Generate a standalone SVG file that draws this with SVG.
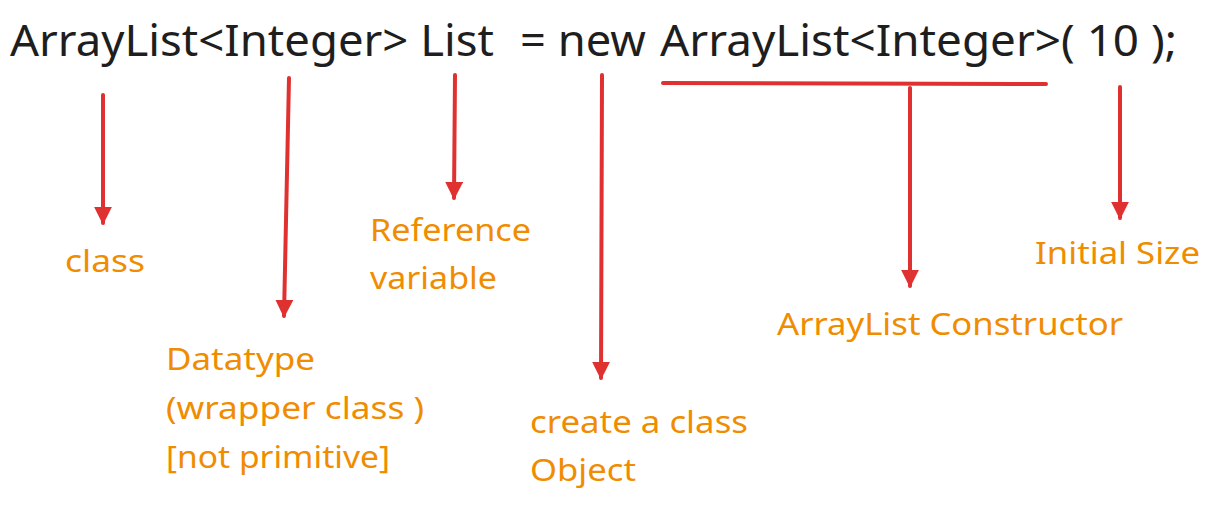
<svg xmlns="http://www.w3.org/2000/svg" width="1212" height="505" viewBox="0 0 1212 505">
<style>
.code{font-family:"Noto Sans","Open Sans",sans-serif;font-size:43px;fill:#1e1e1e}
.lbl{font-family:"Noto Sans","Open Sans",sans-serif;font-size:31px;fill:#f08c00}
.ln{stroke:#e03131;stroke-width:4;stroke-linecap:round;fill:none}
</style>
<defs>
<marker id="ah" viewBox="0 0 10 10" refX="9" refY="5" markerWidth="4.5" markerHeight="4.5" orient="auto" markerUnits="strokeWidth">
<path d="M0,0 L10,5 L0,10 Z" fill="#e03131"/>
</marker>
</defs>
<rect width="1212" height="505" fill="#ffffff"/>
<g id="code">
<text class="code" x="10" y="56" textLength="484" lengthAdjust="spacingAndGlyphs">ArrayList&lt;Integer&gt; List</text>
<text class="code" x="520" y="56" textLength="126" lengthAdjust="spacingAndGlyphs">= new</text>
<text class="code" x="660" y="56" textLength="517" lengthAdjust="spacingAndGlyphs">ArrayList&lt;Integer&gt;( 10 );</text>
</g>
<g id="connectors">
<line class="ln" x1="103" y1="95" x2="103" y2="223" marker-end="url(#ah)"/>
<line class="ln" x1="289" y1="78" x2="284" y2="316" marker-end="url(#ah)"/>
<line class="ln" x1="455" y1="75" x2="454" y2="198" marker-end="url(#ah)"/>
<line class="ln" x1="602" y1="75" x2="601" y2="378" marker-end="url(#ah)"/>
<line class="ln" x1="663" y1="83" x2="1046" y2="84"/>
<line class="ln" x1="910" y1="88" x2="910" y2="286" marker-end="url(#ah)"/>
<line class="ln" x1="1120" y1="87" x2="1120" y2="218" marker-end="url(#ah)"/>
</g>
<g id="n-class"><text class="lbl" x="65" y="272" textLength="80" lengthAdjust="spacingAndGlyphs">class</text></g>
<g id="n-datatype">
<text class="lbl" x="166" y="370" textLength="149" lengthAdjust="spacingAndGlyphs">Datatype</text>
<text class="lbl" x="166" y="419" textLength="258" lengthAdjust="spacingAndGlyphs">(wrapper class )</text>
<text class="lbl" x="166" y="468" textLength="224" lengthAdjust="spacingAndGlyphs">[not primitive]</text>
</g>
<g id="n-reference">
<text class="lbl" x="370" y="241" textLength="161" lengthAdjust="spacingAndGlyphs">Reference</text>
<text class="lbl" x="370" y="289" textLength="127" lengthAdjust="spacingAndGlyphs">variable</text>
</g>
<g id="n-create">
<text class="lbl" x="530" y="433" textLength="218" lengthAdjust="spacingAndGlyphs">create a class</text>
<text class="lbl" x="530" y="481" textLength="106" lengthAdjust="spacingAndGlyphs">Object</text>
</g>
<g id="n-constructor"><text class="lbl" x="777" y="335" textLength="346" lengthAdjust="spacingAndGlyphs">ArrayList Constructor</text></g>
<g id="n-initial"><text class="lbl" x="1035" y="264" textLength="165" lengthAdjust="spacingAndGlyphs">Initial Size</text></g>
</svg>
